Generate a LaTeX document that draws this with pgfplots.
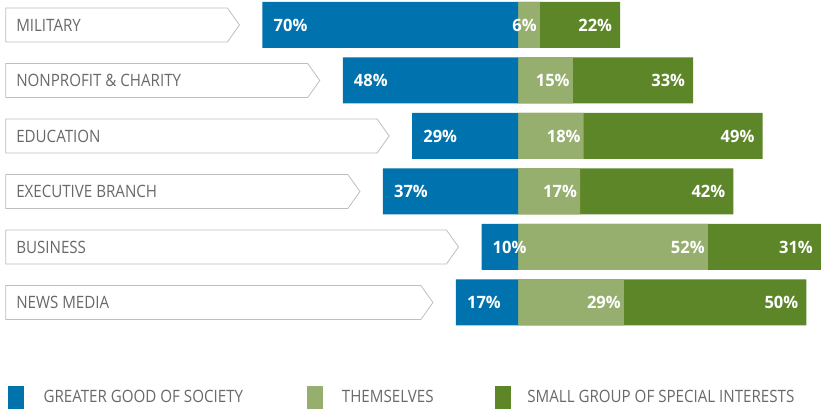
\documentclass[border=0pt]{standalone}
\usepackage{pgfplots}
\pgfplotsset{compat=1.18}
\usepackage{pgfplotstable}
\usepackage{fontspec}
\setmainfont{Open Sans}[FakeStretch=0.89]
\newfontfamily\pctfont{Open Sans}[FakeStretch=0.97]
\definecolor{cblue}{RGB}{0,114,174}
\definecolor{clight}{RGB}{150,175,111}
\definecolor{cdark}{RGB}{92,134,40}
\definecolor{ctext}{RGB}{105,105,105}
\definecolor{cbox}{RGB}{190,190,190}
\tikzset{pct/.style={inner sep=0pt, text=white, font=\pctfont\fontsize{17bp}{19bp}\selectfont\bfseries}}

\pgfplotstableread{
y b t s
387 70 6 22
331.5 48 15 33
276 29 18 49
220.5 37 17 42
165 10 52 31
109.5 17 29 50
}\data

\begin{document}
\begin{tikzpicture}
\begin{axis}[
  scale only axis, width=821bp, height=412bp,
  xmin=-141.9, xmax=83, ymin=0, ymax=412,
  hide axis, clip=false,
  legend columns=3,
  legend style={at={(rel axis cs:0.0097,0.035)}, anchor=west, draw=none, fill=none,
    inner sep=0pt, column sep=0pt, nodes={inner sep=0pt, text=ctext, font=\fontsize{17bp}{19bp}\selectfont}},
  legend image code/.code={\fill[#1] (0bp,-11bp) rectangle (15bp,11bp);},
  mybar/.style={xbar, bar width=46, bar shift=0pt, draw=none, forget plot, point meta=explicit symbolic,
    nodes near coords={\pgfplotspointmeta\%}},
  lbox/.style={draw=cbox, fill=white, line width=0.8pt, forget plot, mark=none},
]
\addlegendimage{cblue, fill=cblue}
\addlegendentry{\makebox[283bp][l]{\hspace*{20bp}GREATER GOOD OF SOCIETY}}
\addlegendimage{clight, fill=clight}
\addlegendentry{\makebox[173bp][l]{\hspace*{20bp}THEMSELVES}}
\addlegendimage{cdark, fill=cdark}
\addlegendentry{\makebox[300bp][l]{\hspace*{17bp}SMALL GROUP OF SPECIAL INTERESTS}}
% label boxes
\addplot[lbox] coordinates {(-140.3,370) (-79.6,370) (-76.3,387) (-79.6,404) (-140.3,404)} --cycle;
\addplot[lbox] coordinates {(-140.3,314.5) (-57.6,314.5) (-54.3,331.5) (-57.6,348.5) (-140.3,348.5)} --cycle;
\addplot[lbox] coordinates {(-140.3,259) (-38.6,259) (-35.3,276) (-38.6,293) (-140.3,293)} --cycle;
\addplot[lbox] coordinates {(-140.3,203.5) (-46.6,203.5) (-43.3,220.5) (-46.6,237.5) (-140.3,237.5)} --cycle;
\addplot[lbox] coordinates {(-140.3,148) (-19.6,148) (-16.3,165) (-19.6,182) (-140.3,182)} --cycle;
\addplot[lbox] coordinates {(-140.3,92.5) (-26.6,92.5) (-23.3,109.5) (-26.6,126.5) (-140.3,126.5)} --cycle;
\begin{scope}[every node/.style={anchor=west, text=ctext, font=\fontsize{17bp}{19bp}\selectfont, inner sep=0pt}]
\node at (axis cs:-137.5,387) {MILITARY};
\node at (axis cs:-137.5,331.5) {NONPROFIT \& CHARITY};
\node at (axis cs:-137.5,276) {EDUCATION};
\node at (axis cs:-137.5,220.5) {EXECUTIVE BRANCH};
\node at (axis cs:-137.5,165) {BUSINESS};
\node at (axis cs:-137.5,109.5) {NEWS MEDIA};
\end{scope}
% small group (drawn as total, then overlapped)
\addplot[mybar, fill=cdark, nodes near coords style={pct, anchor=east, xshift=-8bp}]
  table[x expr=\thisrow{t}+\thisrow{s}, y=y, meta=s] {\data};
\addplot[mybar, fill=clight, nodes near coords style={pct, anchor=east, xshift=-3bp}]
  table[x=t, y=y, meta=t] {\data};
\addplot[mybar, fill=cblue, nodes near coords style={pct, anchor=west, xshift=11bp}]
  table[x expr=-\thisrow{b}, y=y, meta=b] {\data};
\end{axis}
\pgfresetboundingbox
\path (current axis.south west) rectangle (current axis.north east);
\end{tikzpicture}
\end{document}
